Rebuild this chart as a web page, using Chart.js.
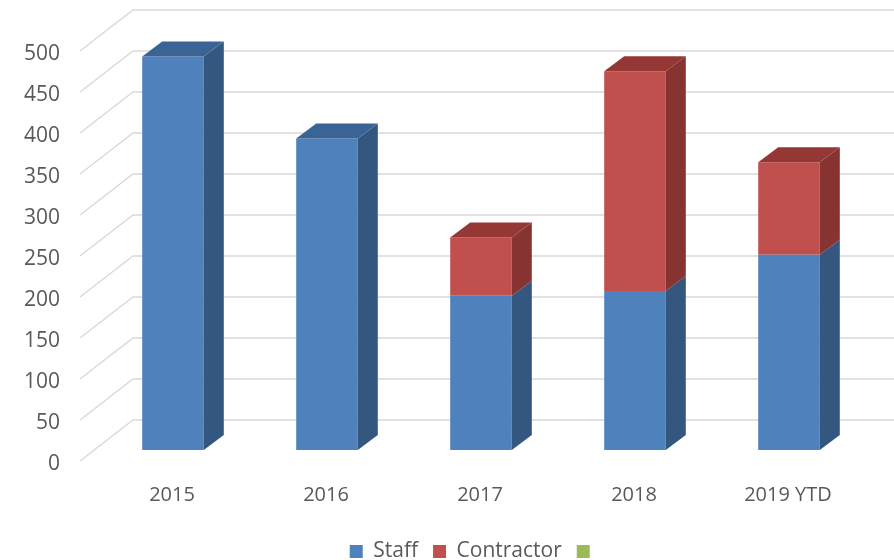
<!DOCTYPE html>
<html>
<head>
<meta charset="utf-8">
<script src="https://cdn.jsdelivr.net/npm/chart.js@4.4.1/dist/chart.umd.min.js"></script>
<style>
  html, body { margin: 0; padding: 0; background: #fff; }
  #wrap { width: 894px; height: 560px; }
</style>
</head>
<body>
<div id="wrap"><canvas id="myChart" width="894" height="560"></canvas></div>
<script>
// chart data
var years = ["2015", "2016", "2017", "2018", "2019 YTD"];
var staff = [480, 380, 188, 194, 238];
var contractor = [0, 0, 71, 268, 113];
var third = [null, null, null, null, null];
var yMin = 0, yMax = 500, yStep = 50;

// 3d look
var depthX = 20, depthY = -15;      // bar depth
var wallFront = -16, wallBack = 37;  // grid wall offsets from chart area left
var wallFrontY = 11, wallBackY = -30;

var bar3d = {
  id: 'bar3d',
  afterLayout: function (chart) {
    // nudge legend like the original
    chart.legend.left -= 6;
    chart.legend.right -= 6;
    chart.legend.top += 2;
    chart.legend.bottom += 2;
  },
  beforeDatasetsDraw: function (chart) {
    var ctx = chart.ctx;
    var area = chart.chartArea;
    var yScale = chart.scales.y;
    ctx.save();
    ctx.strokeStyle = '#d9d9d9';
    ctx.lineWidth = 1.4;
    yScale.ticks.forEach(function (t) {
      var y = yScale.getPixelForValue(t.value);
      ctx.beginPath();
      ctx.moveTo(area.left + wallFront, y + wallFrontY);
      ctx.lineTo(area.left + wallBack, y + wallBackY);
      ctx.lineTo(chart.width, y + wallBackY);
      ctx.stroke();
    });
    ctx.restore();
  },
  afterDatasetsDraw: function (chart) {
    var ctx = chart.ctx;
    var datasets = chart.data.datasets;
    ctx.save();
    years.forEach(function (yr, i) {
      var topBar = null, topDs = null;
      datasets.forEach(function (ds, d) {
        if (!ds.sideColor || !ds.data[i]) return;
        var bar = chart.getDatasetMeta(d).data[i];
        var p = bar.getProps(['x', 'y', 'base', 'width'], true);
        var r = p.x + p.width / 2;
        var t = Math.min(p.y, p.base), b = Math.max(p.y, p.base);
        // side face
        ctx.fillStyle = ds.sideColor;
        ctx.beginPath();
        ctx.moveTo(r, t);
        ctx.lineTo(r + depthX, t + depthY);
        ctx.lineTo(r + depthX, b + depthY);
        ctx.lineTo(r, b);
        ctx.closePath();
        ctx.fill();
        topBar = p;
        topDs = ds;
      });
      if (!topBar) return;
      // top face only on the highest segment
      var l = topBar.x - topBar.width / 2, rr = topBar.x + topBar.width / 2;
      var tt = Math.min(topBar.y, topBar.base);
      ctx.fillStyle = topDs.topColor;
      ctx.beginPath();
      ctx.moveTo(l, tt);
      ctx.lineTo(rr, tt);
      ctx.lineTo(rr + depthX, tt + depthY);
      ctx.lineTo(l + depthX, tt + depthY);
      ctx.closePath();
      ctx.fill();
    });
    ctx.restore();
  }
};

var ctx = document.getElementById("myChart").getContext("2d");
var myChart = new Chart(ctx, {
  type: "bar",
  data: {
    labels: years,
    datasets: [
      {
        label: "Staff",
        data: staff,
        backgroundColor: '#4f81bd',
        sideColor: '#345780',
        topColor: '#3b6496',
        borderWidth: 0,
        categoryPercentage: 0.8,
        barPercentage: 0.5
      },
      {
        label: "Contractor",
        data: contractor,
        backgroundColor: '#c0504d',
        sideColor: '#873332',
        topColor: '#943735',
        borderWidth: 0,
        categoryPercentage: 0.8,
        barPercentage: 0.5
      },
      {
        label: "",
        data: third,
        backgroundColor: '#9bbb59',
        borderWidth: 0,
        categoryPercentage: 0.8,
        barPercentage: 0.5
      }
    ]
  },
  options: {
    responsive: false,
    animation: false,
    layout: {
      padding: { top: 40, right: 28, bottom: -10, left: 0 }
    },
    plugins: {
      legend: {
        position: 'bottom',
        fullSize: false,
        labels: {
          boxWidth: 13,
          boxHeight: 13,
          padding: 15,
          color: '#595959',
          font: { family: 'Open Sans', size: 21 }
        }
      },
      tooltip: { enabled: false }
    },
    scales: {
      x: {
        stacked: true,
        grid: { display: false, drawTicks: false },
        border: { display: false },
        ticks: {
          color: '#595959',
          padding: 33,
          labelOffset: -1,
          font: { family: 'Open Sans', size: 20 }
        },
        afterFit: function (s) { s.height = 74; }
      },
      y: {
        stacked: true,
        min: yMin,
        max: yMax,
        grid: { display: false, drawTicks: false },
        border: { display: false },
        ticks: {
          stepSize: yStep,
          color: '#595959',
          padding: 36,
          labelOffset: 14,
          font: { family: 'Open Sans', size: 21 }
        },
        afterFit: function (s) {
          s.width = 96;
          s.paddingTop = 12;
        }
      }
    }
  },
  plugins: [bar3d]
});
</script>
</body>
</html>
